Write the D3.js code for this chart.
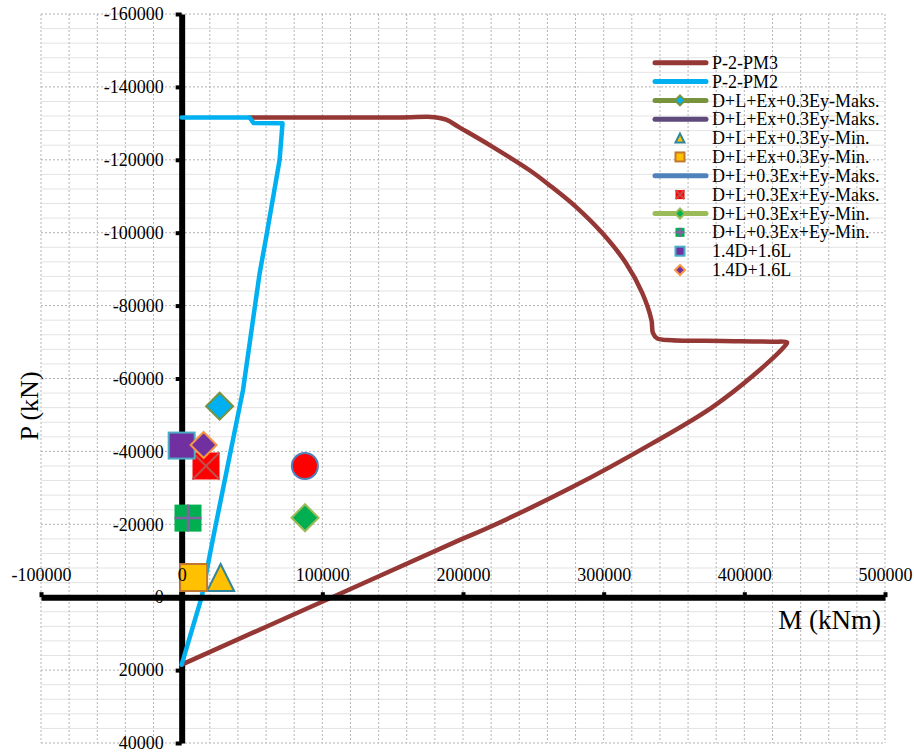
<!DOCTYPE html>
<html><head><meta charset="utf-8">
<script src="https://cdn.jsdelivr.net/npm/d3@7"></script>
<style>
body{margin:0;background:#fff}
text{font-family:'Liberation Serif','Times New Roman',Times,'DejaVu Serif',serif !important;fill:#000}
</style>
</head><body>
<svg id="c" width="914" height="753" font-family="Liberation Serif, Times New Roman, serif"></svg>
<script>
// ---------- DATA ----------
const X_TICKS = [-100000, 0, 100000, 200000, 300000, 400000, 500000];
const Y_TICKS = [-160000, -140000, -120000, -100000, -80000, -60000, -40000, -20000, 0, 20000, 40000];

// P-2-PM3 interaction curve [M (kNm), P (kN)]
const pm3 = [
  [0, 18500], [107000, 0], [197000, -15600], [218700, -19200], [277700, -30200],
  [334500, -42200], [377100, -52100], [408400, -61500], [429000, -69000], [430400, -69900],
  [419700, -70100], [384000, -70300], [348700, -70500], [338000, -71000],
  [335000, -72500], [334000, -76000], [327400, -83500], [315800, -91700],
  [299000, -99900], [280300, -107100], [261300, -113100], [247100, -117200],
  [218700, -124100], [197400, -128900], [188000, -131000], [180000, -131700],
  [154800, -131600], [48300, -131600]
];
// P-2-PM2 interaction curve
const pm2 = [
  [0, -131600], [48300, -131600], [51000, -130100], [71700, -130000],
  [69600, -119900], [60100, -98800], [55400, -88800], [43600, -56800],
  [22000, -15600], [14200, 0], [0, 18500]
];
// load combination points [M, P]
const exMaxPts   = [[27000, -52400]];   // D+L+Ex+0.3Ey-Maks.
const exMinTri   = [[27700, -5400]];    // D+L+Ex+0.3Ey-Min. (triangle)
const exMinSq    = [[8500, -5400]];     // D+L+Ex+0.3Ey-Min. (square)
const eyMaxCirc  = [[87600, -36000]];   // D+L+0.3Ex+Ey-Maks. (circle)
const eyMaxX     = [[17300, -36000]];   // D+L+0.3Ex+Ey-Maks. (x square)
const eyMinDia   = [[87700, -21800]];   // D+L+0.3Ex+Ey-Min. (diamond)
const eyMinPlus  = [[4500, -21700]];    // D+L+0.3Ex+Ey-Min. (plus square)
const gravSq     = [[0, -41600]];       // 1.4D+1.6L (square)
const gravDia    = [[15600, -41750]];   // 1.4D+1.6L (diamond)

const legendLabels = [
  "P-2-PM3", "P-2-PM2", "D+L+Ex+0.3Ey-Maks.", "D+L+Ex+0.3Ey-Maks.",
  "D+L+Ex+0.3Ey-Min.", "D+L+Ex+0.3Ey-Min.", "D+L+0.3Ex+Ey-Maks.",
  "D+L+0.3Ex+Ey-Maks.", "D+L+0.3Ex+Ey-Min.", "D+L+0.3Ex+Ey-Min.",
  "1.4D+1.6L", "1.4D+1.6L"
];

// ---------- CHART ----------
const FONT = "Liberation Serif, Times New Roman, serif";
const svg = d3.select("#c");
const x = d3.scaleLinear().domain([-100000, 500000]).range([41, 885]);
const y = d3.scaleLinear().domain([-160000, 40000]).range([14, 743]);

// grid
const grid = svg.append("g");
grid.selectAll(".hmin").data(d3.range(-160000, 40001, 4000).filter(v => v % 20000 !== 0))
  .enter().append("line")
  .attr("x1", x(-100000)).attr("x2", x(500000))
  .attr("y1", d => y(d)).attr("y2", d => y(d))
  .attr("stroke", "#e3e3e3").attr("stroke-width", 1);
grid.selectAll(".v").data(d3.range(-100000, 500001, 20000))
  .enter().append("line")
  .attr("x1", d => x(d)).attr("x2", d => x(d))
  .attr("y1", y(-160000)).attr("y2", y(40000))
  .attr("stroke", "#b5b5b5").attr("stroke-width", 1).attr("stroke-dasharray", "2,2");
grid.selectAll(".hmaj").data(d3.range(-160000, 40001, 20000))
  .enter().append("line")
  .attr("x1", x(-100000)).attr("x2", x(500000))
  .attr("y1", d => y(d)).attr("y2", d => y(d))
  .attr("stroke", "#b0b0b0").attr("stroke-width", 1).attr("stroke-dasharray", "2,2");

// axes
const yAxis = svg.append("g").attr("transform", `translate(${x(0)},0)`)
  .call(d3.axisLeft(y).tickValues(Y_TICKS).tickSize(6).tickSizeOuter(0).tickPadding(12)
    .tickFormat(d => String(d)));
yAxis.attr("font-family", FONT).attr("font-size", 18);
yAxis.select(".domain").attr("stroke", "#000").attr("stroke-width", 6);
yAxis.selectAll(".tick line").attr("stroke", "#000").attr("stroke-width", 4);

const xAxis = svg.append("g").attr("transform", `translate(0,${y(0)})`)
  .call(d3.axisTop(x).tickValues(X_TICKS).tickSize(5).tickSizeOuter(0).tickPadding(11)
    .tickFormat(d => String(d)));
xAxis.attr("font-family", FONT).attr("font-size", 18);
xAxis.select(".domain").attr("stroke", "#000").attr("stroke-width", 6);
xAxis.selectAll(".tick line").attr("stroke", "#000").attr("stroke-width", 4);

// curves
const smooth = d3.line().x(d => x(d[0])).y(d => y(d[1])).curve(d3.curveCatmullRom.alpha(0.5));
const line = d3.line().x(d => x(d[0])).y(d => y(d[1]));
svg.append("path").datum(pm3).attr("d", smooth).attr("fill", "none")
  .attr("stroke", "#953735").attr("stroke-width", 4.5)
  .attr("stroke-linejoin", "round").attr("stroke-linecap", "round");
svg.append("path").datum(pm2).attr("d", line).attr("fill", "none")
  .attr("stroke", "#00B0F0").attr("stroke-width", 4.5)
  .attr("stroke-linejoin", "round").attr("stroke-linecap", "round");

// marker shapes
function shape(g, type, s, fill, stroke, extra) {
  const h = s / 2;
  let el;
  if (type === "diamond") el = g.append("path").attr("d", `M0,${-h}L${h},0L0,${h}L${-h},0Z`);
  else if (type === "square") el = g.append("rect").attr("x", -h).attr("y", -h).attr("width", s).attr("height", s);
  else if (type === "circle") el = g.append("circle").attr("r", h);
  else if (type === "triangle") el = g.append("path").attr("d", `M0,${-h}L${h},${h}L${-h},${h}Z`);
  el.attr("fill", fill).attr("stroke", stroke || "none").attr("stroke-width", stroke ? 2 : 0);
  if (extra === "x") {
    g.append("path").attr("d", `M${-h},${-h}L${h},${h}M${h},${-h}L${-h},${h}`)
      .attr("stroke", "#C0504D").attr("stroke-width", 2);
  } else if (extra === "plus") {
    g.append("path").attr("d", `M${-h},0L${h},0M0,${-h}L0,${h}`)
      .attr("stroke", "#8064A2").attr("stroke-width", 2.5);
  }
}
function drawPts(data, type, s, fill, stroke, extra) {
  data.forEach(d => {
    const g = svg.append("g").attr("transform", `translate(${x(d[0])},${y(d[1])})`);
    shape(g, type, s, fill, stroke, extra);
  });
}
drawPts(exMaxPts, "diamond", 27, "#00B0F0", "#77933C");
drawPts(exMinTri, "triangle", 27, "#FFC000", "#31859C");
drawPts(exMinSq, "square", 27, "#FFC000", "#C0772F");
drawPts(eyMaxCirc, "circle", 26, "#FF0000", "#4F81BD");
drawPts(eyMaxX, "square", 27, "#FF0000", null, "x");
drawPts(eyMinDia, "diamond", 27, "#00B050", "#9BBB59");
drawPts(eyMinPlus, "square", 27, "#00B050", null, "plus");
drawPts(gravSq, "square", 26, "#7030A0", "#4BACC6");
drawPts(gravDia, "diamond", 26, "#7030A0", "#F79646");

// bring x tick labels to front
xAxis.raise();
xAxis.select(".domain").lower();

// axis titles
svg.append("text").attr("transform", "translate(38,406) rotate(-90)")
  .attr("font-family", FONT).attr("text-anchor", "middle").attr("font-size", 26).text("P (kN)");
svg.append("text").attr("x", 881).attr("y", 629)
  .attr("font-family", FONT).attr("text-anchor", "end").attr("font-size", 27).text("M (kNm)");

// legend
const legendStyles = [
  {line: "#953735"}, {line: "#00B0F0"},
  {line: "#77933C", m: ["diamond", "#00B0F0", "#77933C"]},
  {line: "#604A7B"},
  {m: ["triangle", "#FFC000", "#31859C"]},
  {m: ["square", "#FFC000", "#C0772F"]},
  {line: "#4F81BD"},
  {m: ["square", "#FF0000", null, "x"]},
  {line: "#9BBB59", m: ["diamond", "#00B050", "#9BBB59"]},
  {m: ["square", "#00B050", null, "plus"]},
  {m: ["square", "#7030A0", "#4BACC6"]},
  {m: ["diamond", "#7030A0", "#F79646"]}
];
const leg = svg.append("g");
legendLabels.forEach((lab, i) => {
  const cy = 62.7 + i * 18.85;
  const st = legendStyles[i];
  if (st.line) leg.append("line").attr("x1", 655).attr("x2", 706).attr("y1", cy).attr("y2", cy)
    .attr("stroke", st.line).attr("stroke-width", 5).attr("stroke-linecap", "round");
  if (st.m) {
    const g = leg.append("g").attr("transform", `translate(680,${cy})`);
    const s = st.m[0] === "diamond" ? 10 : 9;
    shape(g, st.m[0], s, st.m[1], st.m[2], st.m[3]);
  }
  leg.append("text").attr("x", 712).attr("y", cy).attr("dy", "0.34em")
    .attr("font-family", FONT).attr("font-size", 18).text(lab);
});
</script>
</body></html>
